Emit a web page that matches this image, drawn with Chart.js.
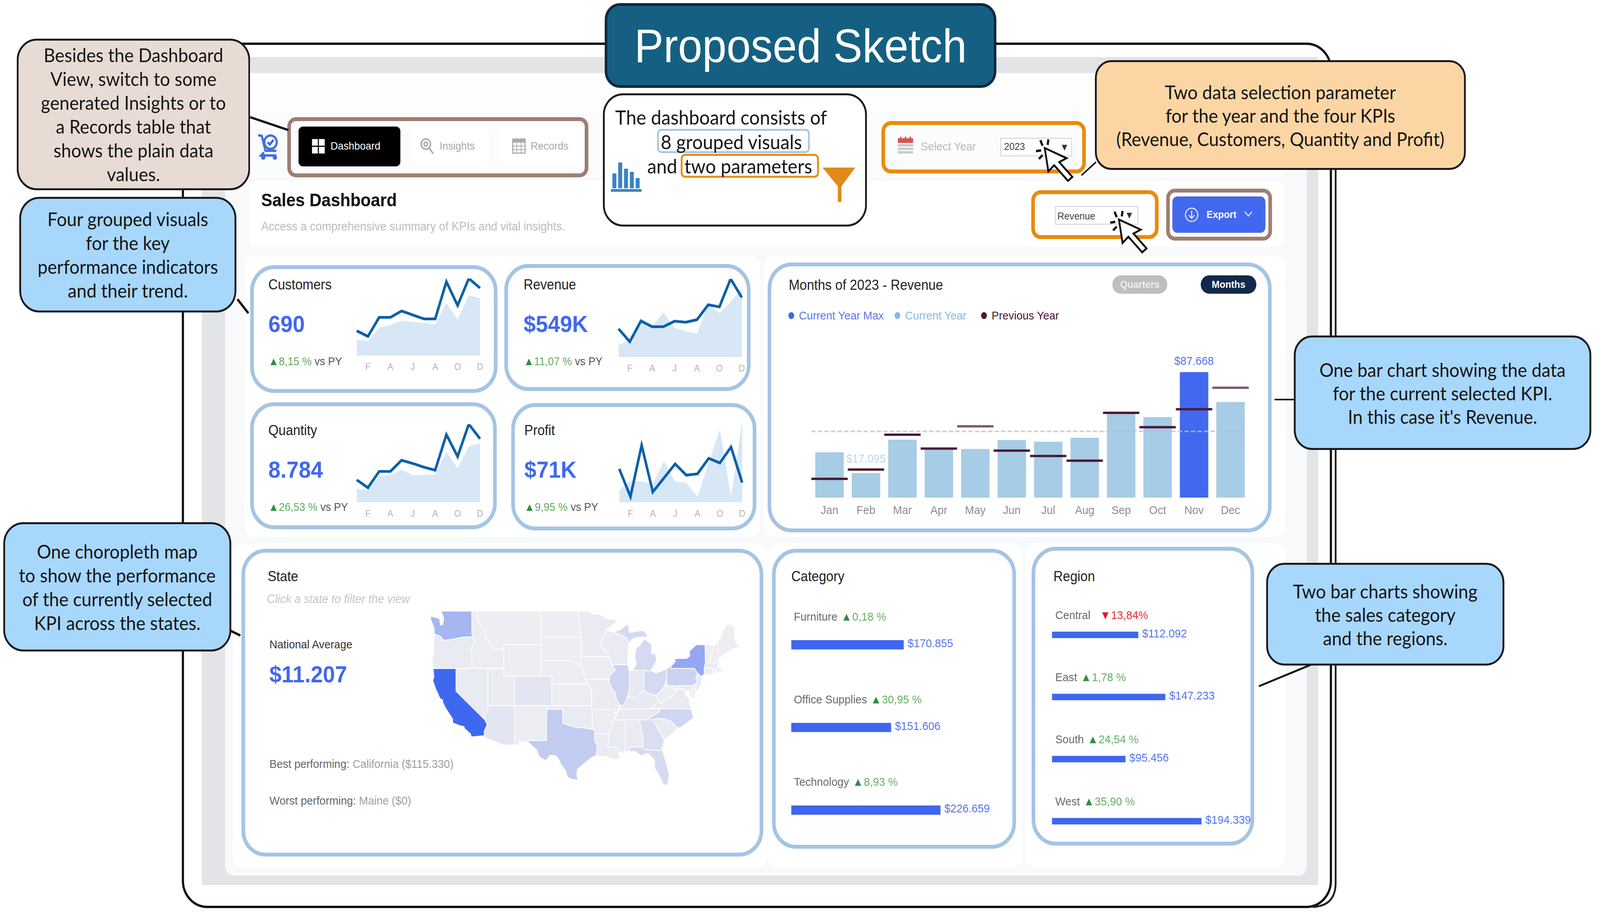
<!DOCTYPE html>
<html>
<head>
<meta charset="utf-8">
<title>Proposed Sketch</title>
<script src="https://cdn.jsdelivr.net/npm/chart.js@4"></script>
<style>
    html, body { margin: 0; padding: 0; background: #fff; overflow: hidden; }
    #root { position: relative; width: 4400px; height: 2335px; overflow: hidden; transform-origin: 0 0; font-family: "Liberation Sans", Arial, sans-serif; }
    #root div, #root canvas, #root svg { position: absolute; box-sizing: border-box; }
    .txt { white-space: nowrap; transform: translateY(-50%); }
    .callout { display: flex; flex-direction: column; justify-content: center; text-align: center; font-family: Lato, sans-serif; color: #141414; border: 5px solid #1a1a1a; }
    .callout div { position: static !important; white-space: nowrap; }
</style>
</head>
<body>
<div id="root"></div>
<script>
// Monthly revenue, 2023 vs previous year
const months = ['Jan', 'Feb', 'Mar', 'Apr', 'May', 'Jun', 'Jul', 'Aug', 'Sep', 'Oct', 'Nov', 'Dec'];
const revenue = [31650, 17095, 40430, 33990, 33990, 40200, 39030, 41840, 58600, 56260, 87668, 66800];
const revenuePrev = [13130, 19570, 43950, 34220, 49810, 32820, 29070, 25780, 59190, 49220, 61770, 76770];
const revenueAverage = 46290;
const legendNames = ['Current Year Max', 'Current Year', 'Previous Year'];

// KPI sparklines
const sparkTicks = ['', 'F', '', 'A', '', 'J', '', 'A', '', 'O', '', 'D'];
const customers = [31, 24, 48, 48, 56, 51, 46, 46, 93, 63, 97, 85];
const customersPrev = [20, 18, 35, 38, 44, 42, 41, 39, 66, 45, 76, 72];
const quantity = [392, 255, 540, 540, 736, 680, 615, 562, 1184, 801, 1367, 1112];
const quantityPrev = [229, 213, 458, 474, 572, 474, 481, 484, 883, 589, 981, 1030];
const profit = [6180, 1040, 10580, 1910, 4510, 7110, 5030, 5270, 8150, 7290, 10240, 3640];
const profitPrev = [2260, 3990, 3820, 3470, 7630, 3820, 3640, 1040, 7290, 13530, 1040, 14920];

// Category and region bars
const categoryNames = ['Furniture', 'Office Supplies', 'Technology'];
const categoryValues = [170855, 151606, 226659];
const categoryDeltas = ['0,18 %', '30,95 %', '8,93 %'];
const regionNames = ['Central', 'East', 'South', 'West'];
const regionValues = [112092, 147233, 95456, 194339];
const regionDeltas = ['13,84%', '1,78 %', '24,54 %', '35,90 %'];

// Choropleth: share of the best state, and simplified outlines as [lon, lat]
const stateCodes = ['WA', 'OR', 'CA', 'NV', 'ID', 'MT', 'WY', 'UT', 'CO', 'AZ', 'NM', 'ND', 'SD', 'NE', 'KS', 'OK', 'TX', 'MN', 'IA', 'MO', 'AR', 'LA', 'WI', 'IL', 'IN', 'MI', 'MI', 'OH', 'KY', 'TN', 'MS', 'AL', 'GA', 'FL', 'SC', 'NC', 'VA', 'WV', 'MD', 'DE', 'PA', 'NY', 'NJ', 'CT', 'RI', 'MA', 'VT', 'NH', 'ME'];
const stateValues = [48000, 3500, 115330, 3000, 1000, 600, 500, 2000, 7000, 7500, 1000, 300, 400, 1000, 1200, 2500, 29000, 2500, 1000, 2000, 1500, 2000, 2500, 22000, 5000, 17000, 17000, 17000, 4000, 3500, 3000, 2500, 14000, 16000, 2500, 20000, 3500, 300, 2000, 1500, 23000, 60000, 2500, 1500, 800, 2000, 300, 800, 0];
const stateOutlines = [
    [[-124.7,48.4],[-123.1,48.15],[-122.9,47.4],[-122.5,47.4],[-122.3,48.2],[-122.8,49],[-117.03,49],[-117.04,46.4],[-116.9,46],[-119,45.93],[-120.5,45.7],[-122.3,45.55],[-123,46.1],[-124.05,46.3],[-124.1,47],[-124.7,48]],
    [[-124.1,46.25],[-123,46.1],[-122.3,45.55],[-120.5,45.7],[-119,45.93],[-116.9,46],[-116.5,45.5],[-117.2,44.4],[-117.03,43.8],[-117.03,42],[-124.2,42],[-124.5,42.8],[-124.1,44.5]],
    [[-124.2,42],[-120,42],[-120,39],[-114.6,35],[-114.15,34.3],[-114.7,33.4],[-114.7,32.72],[-117.12,32.53],[-117.3,33],[-118.4,33.75],[-118.5,34.03],[-119.2,34.15],[-120.6,34.55],[-120.65,35.15],[-121.9,36.6],[-122.5,37.5],[-122.5,37.8],[-123,38],[-123.8,39.3],[-124.35,40.4],[-124.1,41]],
    [[-120,42],[-114.04,42],[-114.04,36.2],[-114.7,36.1],[-114.6,35],[-120,39]],
    [[-117.03,49],[-116.05,49],[-116.05,48],[-114.7,46.7],[-114.35,46.65],[-114.5,45.6],[-113.9,45.6],[-113.45,44.9],[-113,44.45],[-111.05,44.48],[-111.05,42],[-117.03,42],[-117.03,43.8],[-117.2,44.4],[-116.5,45.5],[-116.9,46],[-117.04,46.4]],
    [[-116.05,49],[-104.05,49],[-104.05,45],[-111.05,45],[-111.05,44.48],[-113,44.45],[-113.45,44.9],[-113.9,45.6],[-114.5,45.6],[-114.35,46.65],[-114.7,46.7],[-116.05,48]],
    [[-111.05,45],[-104.05,45],[-104.05,41],[-111.05,41]],
    [[-114.04,42],[-111.05,42],[-111.05,41],[-109.05,41],[-109.05,37],[-114.04,37]],
    [[-109.05,41],[-102.05,41],[-102.05,37],[-109.05,37]],
    [[-114.04,37],[-109.05,37],[-109.05,31.33],[-111.07,31.33],[-114.8,32.5],[-114.7,32.72],[-114.7,33.4],[-114.15,34.3],[-114.6,35],[-114.7,36.1],[-114.04,36.2]],
    [[-109.05,37],[-103,37],[-103.05,32],[-106.6,32],[-106.5,31.78],[-108.2,31.78],[-108.2,31.33],[-109.05,31.33]],
    [[-104.05,49],[-97.2,49],[-96.6,46.3],[-96.56,45.94],[-104.05,45.94]],
    [[-104.05,45.94],[-96.56,45.94],[-96.45,45.3],[-96.45,43.5],[-96.6,42.5],[-97.9,42.8],[-98.5,43],[-104.05,43]],
    [[-104.05,43],[-98.5,43],[-97.9,42.8],[-96.6,42.5],[-96.1,41.5],[-95.8,40.6],[-95.3,40],[-102.05,40],[-102.05,41],[-104.05,41]],
    [[-102.05,40],[-95.3,40],[-94.62,39.1],[-94.62,37],[-102.05,37]],
    [[-103,37],[-94.62,37],[-94.43,35.4],[-94.48,33.64],[-96,33.85],[-97.2,33.9],[-98.5,34.1],[-100,34.56],[-100,36.5],[-103,36.5]],
    [[-106.6,32],[-103.05,32],[-103,36.5],[-100,36.5],[-100,34.56],[-98.5,34.1],[-97.2,33.9],[-96,33.85],[-94.48,33.64],[-94.04,33.55],[-94.04,32],[-93.53,31.2],[-93.8,29.7],[-94.7,29.4],[-96,28.5],[-97.2,27.7],[-97.4,26.9],[-97.15,25.96],[-98.2,26.07],[-99.1,26.4],[-99.5,27.5],[-100.3,28.3],[-100.8,29.25],[-101.4,29.77],[-102.4,29.77],[-103.15,28.98],[-104.4,29.55],[-104.9,30.6],[-106.5,31.78]],
    [[-97.2,49],[-95.15,49],[-94.6,48.7],[-93,48.6],[-91.5,48.1],[-89.5,48],[-92,46.7],[-92.3,46.1],[-92.8,45.5],[-92.75,44.75],[-91.2,43.5],[-96.45,43.5],[-96.45,45.3],[-96.56,45.94],[-96.6,46.3]],
    [[-96.45,43.5],[-91.2,43.5],[-91.1,42.7],[-90.15,41.8],[-91.1,41.2],[-91.4,40.4],[-91.7,40.6],[-95.8,40.6],[-96.1,41.5],[-96.6,42.5]],
    [[-95.8,40.6],[-91.7,40.6],[-91.4,40.4],[-90.7,39.2],[-90.2,38.8],[-90.2,38.4],[-89.5,37.3],[-89.15,37],[-89.7,36.5],[-89.7,36],[-90.35,36],[-90.15,36.5],[-94.62,36.5],[-94.62,39.1],[-95.3,40]],
    [[-94.62,36.5],[-90.15,36.5],[-90.35,36],[-89.7,36],[-90.6,34.8],[-91.2,33],[-94.04,33],[-94.04,33.55],[-94.48,33.64],[-94.43,35.4]],
    [[-94.04,33],[-91.2,33],[-91.6,31],[-89.75,31],[-89.6,30.2],[-89.2,29.3],[-90.5,29.1],[-91.8,29.6],[-93.8,29.7],[-93.53,31.2],[-94.04,32]],
    [[-92,46.7],[-90.4,46.55],[-88.1,45.9],[-87.6,45.1],[-87.8,44],[-87.8,42.5],[-90.65,42.5],[-91.1,42.7],[-91.2,43.5],[-92.75,44.75],[-92.8,45.5],[-92.3,46.1]],
    [[-90.65,42.5],[-87.8,42.5],[-87.53,41.7],[-87.53,39.3],[-87.95,38.2],[-88.1,37.8],[-88.5,37.1],[-89.15,37],[-89.5,37.3],[-90.2,38.4],[-90.2,38.8],[-90.7,39.2],[-91.4,40.4],[-91.1,41.2],[-90.15,41.8]],
    [[-87.53,41.7],[-86.8,41.76],[-84.8,41.76],[-84.8,39.1],[-85.4,38.7],[-86.3,38.1],[-87.95,38.2],[-87.53,39.3]],
    [[-86.8,41.76],[-83.45,41.73],[-83.1,42.2],[-82.45,43],[-82.6,43.9],[-83.4,43.9],[-83.3,45],[-84.7,45.75],[-85.5,45],[-86.3,44.5],[-86.5,43.5],[-86.2,42.5]],
    [[-90.4,46.55],[-89,46.9],[-88.2,47.4],[-87.7,47.4],[-87.5,46.5],[-85,46.75],[-84.4,46.4],[-84,46],[-84.7,45.95],[-86,45.9],[-87,45.7],[-87.6,45.1],[-88.1,45.9]],
    [[-84.8,41.7],[-83.45,41.73],[-82.5,41.4],[-81.2,41.75],[-80.52,41.98],[-80.52,40.64],[-80.9,39.7],[-81.7,39],[-82.6,38.45],[-83.7,38.65],[-84.8,39.1]],
    [[-88.5,37.1],[-88.1,37.8],[-87.95,38.2],[-86.3,38.1],[-85.4,38.7],[-84.8,39.1],[-83.7,38.65],[-82.6,38.45],[-82,37.55],[-83.68,36.6],[-89.4,36.5],[-89.15,37]],
    [[-89.4,36.5],[-83.68,36.6],[-81.7,36.59],[-82,36.1],[-84.3,35],[-90.3,35],[-89.7,36]],
    [[-90.3,35],[-88.2,35],[-88.4,30.3],[-89.6,30.2],[-89.75,31],[-91.6,31],[-91.2,33],[-90.6,34.8]],
    [[-88.2,35],[-85.6,35],[-85,32.3],[-85,31],[-87.6,31],[-87.5,30.3],[-88.4,30.3]],
    [[-85.6,35],[-83.1,35],[-81,32.1],[-81.4,30.7],[-82.1,30.5],[-84.9,30.7],[-85,31],[-85,32.3]],
    [[-87.6,31],[-85,31],[-84.9,30.7],[-82.1,30.5],[-81.4,30.7],[-80.5,28.4],[-80.05,26.8],[-80.4,25.2],[-81.1,25.2],[-81.9,26.6],[-82.8,27.9],[-82.8,29],[-84,30.1],[-85.3,29.7],[-86.5,30.4],[-87.5,30.3]],
    [[-83.1,35],[-82.3,35.2],[-81,35.15],[-79.7,34.8],[-78.55,33.85],[-79.2,33.2],[-81,32.1]],
    [[-84.3,35],[-83.1,35],[-82.3,35.2],[-81,35.15],[-79.7,34.8],[-78.55,33.85],[-77.9,33.9],[-76.5,34.7],[-75.5,35.3],[-75.9,36.55],[-81.7,36.59],[-82,36.1]],
    [[-83.68,36.6],[-75.9,36.55],[-76.3,37.5],[-76.3,38],[-77,38.4],[-77.1,38.9],[-77.75,39.3],[-78.3,39.4],[-78.9,38.7],[-80,38],[-81.7,37.3],[-82,37.55]],
    [[-82.6,38.45],[-82,37.55],[-81.7,37.3],[-80,38],[-78.9,38.7],[-78.3,39.4],[-77.75,39.3],[-79.48,39.2],[-79.48,39.72],[-80.52,39.72],[-80.52,40.64],[-80.9,39.7],[-81.7,39]],
    [[-79.48,39.72],[-75.79,39.72],[-75.7,38.46],[-75.05,38.45],[-75.4,38],[-76.2,38.3],[-76.4,39.1],[-77.1,38.9],[-77.75,39.3],[-78.3,39.4],[-79.48,39.2]],
    [[-75.79,39.72],[-75.4,39.8],[-75.05,38.45],[-75.7,38.46]],
    [[-80.52,41.98],[-79.76,42.27],[-79.76,42],[-75.35,42],[-74.7,41.36],[-75.1,40.9],[-74.75,40.2],[-75.4,39.8],[-75.79,39.72],[-80.52,39.72]],
    [[-79.76,42.27],[-78.9,42.9],[-79.05,43.27],[-76.8,43.3],[-76.2,43.6],[-76.3,44.2],[-75,45],[-73.35,45],[-73.3,43.6],[-73.27,42.75],[-73.5,42.05],[-73.5,41.3],[-73.9,40.95],[-74.7,41.36],[-75.35,42],[-79.76,42]],
    [[-74.7,41.36],[-73.9,40.95],[-74.1,39.75],[-74.9,38.95],[-75.5,39.5],[-74.75,40.2],[-75.1,40.9]],
    [[-73.5,42.05],[-71.8,42.02],[-71.85,41.32],[-73.65,41],[-73.5,41.3]],
    [[-71.8,42.02],[-71.38,42.02],[-71.2,41.5],[-71.85,41.32]],
    [[-73.5,42.05],[-73.27,42.75],[-71.3,42.7],[-70.8,42.87],[-70.6,42.65],[-71,42.3],[-70.6,41.95],[-70,42],[-70,41.65],[-71.2,41.5],[-71.38,42.02]],
    [[-73.35,45],[-71.5,45],[-72.45,43],[-72.46,42.73],[-73.27,42.75],[-73.3,43.6]],
    [[-71.5,45],[-71.08,45.3],[-70.7,43.1],[-70.8,42.87],[-71.3,42.7],[-72.46,42.73],[-72.45,43]],
    [[-71.08,45.3],[-70.3,46],[-70,46.7],[-69.2,47.45],[-68.3,47.35],[-67.8,47.07],[-67.8,45.7],[-67,44.8],[-68.5,44.3],[-70,43.8],[-70.7,43.1]]
];

const root = document.getElementById('root');
const BLUE = '#4168ee';
const LIGHT_BAR = '#a6cce6';
const CARD_LINE = '#a4c4e5';

// The window can come out narrower than the 4400 the layout is measured in
root.style.transform = `scaleX(${Math.min(1, window.innerWidth / 4400)})`;

Chart.defaults.font.family = '"Liberation Sans", Arial, sans-serif';

function addBox(x0, y0, x1, y1, style) {
    const el = document.createElement('div');
    el.style.cssText = `left:${x0}px;top:${y0}px;width:${x1 - x0}px;height:${y1 - y0}px;` + (style || '');
    root.appendChild(el);
    return el;
}

function addText(x, cy, html, size, color, extra) {
    const el = document.createElement('div');
    el.className = 'txt';
    el.style.cssText = `left:${x}px;top:${cy}px;font-size:${size}px;color:${color};` + (extra || '');
    el.innerHTML = html;
    root.appendChild(el);
    return el;
}

function addCallout(x0, y0, x1, y1, bg, lines, step, radius) {
    const el = addBox(x0, y0, x1, y1, `background:${bg};border-radius:${radius}px;font-size:49px;line-height:${step}px;z-index:6;`);
    el.className = 'callout';
    lines.forEach(line => {
        const row = document.createElement('div');
        row.textContent = line;
        el.appendChild(row);
    });
}

function addSvg(x0, y0, x1, y1, inner, z) {
    const holder = document.createElement('div');
    holder.style.cssText = `left:${x0}px;top:${y0}px;width:${x1 - x0}px;height:${y1 - y0}px;z-index:${z || 5};`;
    holder.innerHTML = `<svg style="left:0;top:0;overflow:visible" width="${x1 - x0}" height="${y1 - y0}" viewBox="0 0 ${x1 - x0} ${y1 - y0}">${inner}</svg>`;
    root.appendChild(holder);
}

function addCanvas(x0, y0, x1, y1) {
    const canvas = document.createElement('canvas');
    canvas.width = x1 - x0;
    canvas.height = y1 - y0;
    canvas.style.cssText = `left:${x0}px;top:${y0}px;width:${x1 - x0}px;height:${y1 - y0}px;z-index:3;`;
    root.appendChild(canvas);
    return canvas.getContext('2d');
}

const baseOptions = {
    responsive: false,
    animation: false,
    devicePixelRatio: 1,
    events: []
};
const quietPlugins = { legend: { display: false }, tooltip: { enabled: false } };

// ---- Page frame ----
addBox(500, 109, 3663, 2325, 'border:6px solid #111;border-radius:70px;');
addSvg(3660, 430, 3690, 2330, '<path d="M13 0 V1830 Q13 1890 -50 1892" fill="none" stroke="#222" stroke-width="5"/>', 1);
addBox(555, 146, 3625, 2266, 'background:#e3e4e8;');
addBox(619, 187, 3594, 2242, 'background:#f7f9fb;border-radius:24px;');
addBox(619, 187, 3594, 292, 'background:#fdfdfe;');
addBox(684, 296, 3533, 456, 'background:#fbfcfd;border-radius:20px;');
addBox(684, 462, 3533, 632, 'background:#fff;border-radius:24px;');
addBox(672, 655, 2090, 1375, 'background:#fff;border-radius:28px;');
addBox(2100, 655, 3535, 1375, 'background:#fff;border-radius:28px;');
addBox(640, 1392, 2110, 2222, 'background:#fff;border-radius:28px;');
addBox(2112, 1392, 2812, 2222, 'background:#fff;border-radius:28px;');
addBox(2820, 1392, 3535, 2222, 'background:#fff;border-radius:28px;');

// ---- Cards ----
function addCard(x0, y0, x1, y1) {
    addBox(x0, y0, x1, y1, `background:#fff;border:10px solid ${CARD_LINE};border-radius:66px;z-index:2;`);
}
addCard(688, 679, 1368, 1006);
addCard(1387, 676, 2064, 1001);
addCard(688, 1030, 1366, 1355);
addCard(1406, 1032, 2080, 1358);
addCard(2111, 672, 3497, 1363);
addCard(664, 1405, 2099, 2193);
addCard(2123, 1405, 2794, 2173);
addCard(2837, 1400, 3449, 2165);

const z3 = 'z-index:3;';

// ---- Header row ----
addText(718, 512, 'Sales Dashboard', 46, '#111', 'font-weight:bold;' + z3);
addText(718, 580, 'Access a comprehensive summary of KPIs and vital insights.', 31, '#bdbdbd', z3);

addSvg(704, 340, 770, 408, `<g fill="none" stroke="#3f6fe0" stroke-width="6">
    <path d="M6 6 L16 8 L26 46 H56"/><path d="M22 50 L14 58 H56"/><circle cx="20" cy="63" r="3"/><circle cx="52" cy="63" r="3"/>
    <circle cx="40" cy="24" r="17"/><path d="M32 24 L38 30 L48 18"/></g>`, 3);
addBox(790, 300, 1618, 454, 'border:10px solid #9e7e72;border-radius:24px;z-index:3;');
addBox(821, 324, 1101, 426, 'background:#000;border-radius:12px;z-index:3;');
addBox(1134, 324, 1344, 426, 'background:#fff;border-radius:14px;z-index:3;');
addBox(1378, 324, 1606, 426, 'background:#fff;border-radius:14px;z-index:3;');
addSvg(858, 356, 894, 394, '<g fill="#fff"><rect width="16" height="17"/><rect x="19" width="16" height="17"/><rect y="20" width="16" height="17"/><rect x="19" y="20" width="16" height="17"/></g>', 4);
addText(909, 374, 'Dashboard', 28, '#fff', 'z-index:4;');
addSvg(1155, 352, 1196, 398, '<g fill="none" stroke="#aaa" stroke-width="4"><circle cx="16" cy="17" r="13"/><circle cx="16" cy="17" r="5"/><path d="M25 27 L37 42"/></g>', 4);
addText(1209, 374, 'Insights', 28, '#a8a8a8', 'z-index:4;');
addSvg(1408, 354, 1448, 394, '<rect x="2" y="2" width="34" height="36" fill="none" stroke="#aaa" stroke-width="3"/><rect x="2" y="2" width="34" height="9" fill="#aaa"/><path d="M2 20 H36 M2 29 H36 M13 11 V38 M25 11 V38" stroke="#aaa" stroke-width="2"/>', 4);
addText(1459, 374, 'Records', 28, '#a8a8a8', 'z-index:4;');

addBox(2424, 310, 2986, 444, 'border:10px solid #e98b0a;border-radius:26px;z-index:3;');
addSvg(2467, 350, 2513, 396, '<rect x="2" y="4" width="42" height="12" fill="#d9534f"/><path d="M10 0 V10 M23 0 V10 M36 0 V10" stroke="#d9534f" stroke-width="4"/><g fill="#c9c9c9"><rect x="2" y="19" width="42" height="6"/><rect x="2" y="28" width="42" height="6"/><rect x="2" y="37" width="42" height="6"/></g>', 4);
addText(2532, 375, 'Select Year', 30, '#bbb', z3);
addBox(2751, 353, 2948, 400, 'border:2px solid #cfcfcf;background:#fff;z-index:3;');
addText(2761, 375, '2023', 26, '#444', 'z-index:4;');
addText(2920, 375, '▾', 30, '#333', 'z-index:4;');

addBox(2836, 487, 3186, 612, 'border:10px solid #e98b0a;border-radius:26px;z-index:3;');
addBox(2901, 528, 3130, 575, 'border:2px solid #cfcfcf;background:#fff;z-index:3;');
addText(2908, 553, 'Revenue', 26, '#444', 'z-index:4;');
addText(3098, 549, '▾', 30, '#333', 'z-index:4;');

addBox(3207, 483, 3498, 616, 'border:10px solid #9e7e72;border-radius:24px;z-index:3;');
addBox(3224, 503, 3480, 596, `background:${BLUE};border-radius:14px;z-index:3;`);
addSvg(3257, 530, 3297, 570, '<g fill="none" stroke="#dfe6ff" stroke-width="3"><circle cx="20" cy="20" r="17"/><path d="M20 9 V29 M12 21 L20 29 L28 21"/></g>', 4);
addText(3318, 549, 'Export', 26, '#fff', 'font-weight:bold;z-index:4;');
addSvg(3420, 538, 3446, 558, '<path d="M3 4 L13 15 L23 4" fill="none" stroke="#dfe6ff" stroke-width="3"/>', 4);

function addCursor(x, y) {
    addSvg(x - 30, y - 30, x + 100, y + 110, `<g transform="translate(30 30)">
        <path d="M0 0 L10 60 L26 44 L64 84 L76 74 L40 36 L60 26 Z" fill="#fff" stroke="#111" stroke-width="5"/>
        <path d="M-6 -6 L-12 -20 M8 -8 L10 -22 M-10 6 L-24 8 M-6 18 L-16 28" stroke="#111" stroke-width="6"/></g>`, 7);
}
addCursor(2873, 379);
addCursor(3077, 562);

// ---- KPI sparklines ----
function drawSpark(x0, x1, top, base, line, area) {
    const pad = 24;
    const ctx = addCanvas(x0 - pad, top - 10, x1 + pad, base + 40);
    new Chart(ctx, {
        type: 'line',
        data: {
            labels: sparkTicks,
            datasets: [
                { data: line, borderColor: '#0b5fa8', borderWidth: 7, pointRadius: 0, tension: 0, fill: false, order: 0 },
                { data: area, backgroundColor: '#d7e7f5', borderWidth: 0, pointRadius: 0, tension: 0, fill: 'origin', order: 1 }
            ]
        },
        options: {
            ...baseOptions,
            layout: { padding: { left: pad, right: pad, top: 10, bottom: 0 } },
            plugins: quietPlugins,
            scales: {
                x: {
                    offset: false,
                    afterFit: scale => { scale.height = 40; },
                    grid: { display: false },
                    border: { display: false },
                    ticks: { autoSkip: false, maxRotation: 0, color: '#b0b0b0', padding: 8, font: { size: 24 } }
                },
                y: { display: false, min: 0, max: Math.max(...line, ...area) }
            }
        }
    });
}

function addKpi(x, titleY, title, total, delta) {
    addText(x, titleY, title, 36, '#222', z3);
    addText(x, titleY + 100, total, 60, BLUE, 'font-weight:bold;' + z3);
    addText(x, titleY + 196, `<span style="color:#2f8f3f">▲</span><span style="color:#63ae63">${delta}</span> <span style="color:#555">vs PY</span>`, 29, '#555', z3);
}
addKpi(738, 729, 'Customers', '690', '8,15 %');
addKpi(1440, 729, 'Revenue', '$549K', '11,07 %');
addKpi(738, 1102, 'Quantity', '8.784', '26,53 %');
addKpi(1442, 1102, 'Profit', '$71K', '9,95 %');

drawSpark(981, 1320, 713, 910, customers, customersPrev);
drawSpark(1701, 2040, 714, 914, revenue, revenuePrev);
drawSpark(981, 1320, 1086, 1286, quantity, quantityPrev);
drawSpark(1703, 2041, 1080, 1286, profit, profitPrev);

// ---- Monthly bar chart ----
addText(2169, 730, 'Months of 2023 - Revenue', 36, '#222', z3);
addBox(3059, 705, 3210, 752, 'background:#bcbec0;border-radius:24px;z-index:3;color:#eee;font-size:26px;font-weight:bold;text-align:center;line-height:47px;').textContent = 'Quarters';
addBox(3302, 705, 3455, 752, 'background:#13294b;border-radius:24px;z-index:3;color:#fff;font-size:26px;font-weight:bold;text-align:center;line-height:47px;').textContent = 'Months';

const legendSpots = [[2176, BLUE, '#5a78ea'], [2468, '#8cb8dc', '#8cb8dc'], [2706, '#4a1a35', '#4a1a35']];
legendNames.forEach((name, i) => {
    const [x, dot, color] = legendSpots[i];
    addBox(x - 8, 799, x + 8, 817, `background:${dot};border-radius:50%;z-index:3;`);
    addText(x + 21, 808, name, 30, color, z3);
});

const monthlyLabels = {
    id: 'monthlyLabels',
    afterDatasetsDraw(chart) {
        const { ctx, chartArea, scales } = chart;
        const yAvg = scales.y.getPixelForValue(revenueAverage);
        ctx.save();
        ctx.strokeStyle = 'rgba(190,190,196,0.75)';
        ctx.lineWidth = 4;
        ctx.setLineDash([12, 6]);
        ctx.beginPath();
        ctx.moveTo(chartArea.left, yAvg);
        ctx.lineTo(chartArea.right - 10, yAvg);
        ctx.stroke();
        ctx.setLineDash([]);

        // only the highest and lowest months carry a value
        ctx.font = '30px "Liberation Sans"';
        ctx.textAlign = 'center';
        ctx.textBaseline = 'middle';
        const top = Math.max(...revenue);
        const low = Math.min(...revenue);
        const bars = chart.getDatasetMeta(0).data;
        revenue.forEach((v, i) => {
            if (v !== top && v !== low) return;
            ctx.fillStyle = v === top ? '#4f6fe8' : '#bcd6ea';
            ctx.fillText('$' + v.toLocaleString('de-DE'), bars[i].x, bars[i].y - (v === top ? 27 : 36));
        });
        ctx.restore();
    }
};

new Chart(addCanvas(2175, 860, 3490, 1330), {
    type: 'bar',
    data: {
        labels: months,
        datasets: [
            {
                data: revenue,
                backgroundColor: revenue.map(v => (v === Math.max(...revenue) ? BLUE : LIGHT_BAR)),
                categoryPercentage: 1,
                barPercentage: 0.78,
                order: 1
            },
            {
                type: 'line',
                data: revenuePrev,
                showLine: false,
                pointStyle: 'line',
                pointRadius: 50,
                pointBorderWidth: 6,
                pointBorderColor: revenuePrev.map((v, i) => (v > revenue[i] * 1.1 && v > 45000 ? '#7b5a6c' : '#4a1a35')),
                order: 0
            }
        ]
    },
    options: {
        ...baseOptions,
        layout: { padding: { left: 10, right: 20, top: 20, bottom: 0 } },
        plugins: quietPlugins,
        scales: {
            x: {
                afterFit: scale => { scale.height = 56; },
                grid: { display: false, drawTicks: false },
                border: { display: false },
                ticks: { color: '#8a8a8a', padding: 16, font: { size: 30 } }
            },
            y: { display: false, min: 0, max: 97700 }
        }
    },
    plugins: [monthlyLabels]
});

// ---- Category and region bars ----
function rowLabels(names, values, deltas, textShift, labelRise) {
    return {
        id: 'rowLabels',
        afterDatasetsDraw(chart) {
            const { ctx } = chart;
            const bars = chart.getDatasetMeta(0).data;
            ctx.save();
            ctx.textBaseline = 'middle';
            ctx.font = '30px "Liberation Sans"';
            bars.forEach((bar, i) => {
                ctx.fillStyle = '#5372ea';
                ctx.fillText('$' + values[i].toLocaleString('de-DE'), bar.x + 11, bar.y - 2);

                const drop = deltas[i].endsWith('%') && !deltas[i].includes(' ');
                let x = chart.chartArea.left + textShift;
                const y = bar.y - labelRise;
                ctx.fillStyle = '#666';
                ctx.fillText(names[i], x, y);
                x += ctx.measureText(names[i]).width + (drop ? 26 : 10);
                ctx.fillStyle = drop ? '#e8141c' : '#2f8f3f';
                ctx.fillText(drop ? '▼' : '▲', x, y);
                x += ctx.measureText('▲').width + 1;
                ctx.fillStyle = drop ? '#ee2a32' : '#63ae63';
                ctx.fillText(deltas[i], x, y);
            });
            ctx.restore();
        }
    };
}

function drawRows(x0, y0, x1, y1, names, values, deltas, xMax, thickness, textShift, labelRise) {
    new Chart(addCanvas(x0, y0, x1, y1), {
        type: 'bar',
        data: { labels: names, datasets: [{ data: values, backgroundColor: '#3f66ee', barThickness: thickness }] },
        options: {
            ...baseOptions,
            indexAxis: 'y',
            plugins: quietPlugins,
            scales: {
                x: { display: false, min: 0, max: xMax },
                y: { display: false }
            }
        },
        plugins: [rowLabels(names, values, deltas, textShift, labelRise)]
    });
}

addText(2176, 1476, 'Category', 36, '#222', z3);
addText(2897, 1476, 'Region', 36, '#222', z3);
drawRows(2176, 1545, 2786, 2180, categoryNames, categoryValues, categoryDeltas, 337300, 23, 7, 70);
drawRows(2893, 1546, 3445, 2182, regionNames, regionValues, regionDeltas, 261100, 16, 9, 49);

// ---- Choropleth ----
addText(736, 1476, 'State', 36, '#222', z3);
addText(734, 1534, 'Click a state to filter the view', 31, '#c6c6c6', 'font-style:italic;' + z3);
addText(741, 1650, 'National Average', 30, '#333', z3);
addText(741, 1726, '$11.207', 60, BLUE, 'font-weight:bold;' + z3);
addText(741, 1956, '<span style="color:#666">Best performing:</span> California ($115.330)', 30, '#a0a0a0', z3);
addText(741, 2050, '<span style="color:#666">Worst performing:</span> Maine ($0)', 30, '#a0a0a0', z3);

function mercator(lat) {
    return Math.log(Math.tan(Math.PI / 4 + lat * Math.PI / 360)) * 180 / Math.PI;
}

function stateColor(value) {
    const t = value / Math.max(...stateValues);
    const from = [238, 238, 242];
    const to = [63, 104, 240];
    return `rgb(${from.map((c, i) => Math.round(c + (to[i] - c) * t)).join(',')})`;
}

new Chart(addCanvas(1160, 1540, 2060, 2040), {
    type: 'scatter',
    data: {
        datasets: stateOutlines.map((outline, i) => ({
            label: stateCodes[i],
            data: outline.map(([lon, lat]) => ({ x: lon, y: mercator(lat) })),
            showLine: true,
            fill: 'shape',
            tension: 0,
            pointRadius: 0,
            borderWidth: 2,
            borderColor: '#fff',
            backgroundColor: stateColor(stateValues[i])
        }))
    },
    options: {
        ...baseOptions,
        plugins: quietPlugins,
        scales: {
            x: { display: false, min: -126.4, max: -65.09 },
            y: { display: false, min: 23.99, max: 58.05 }
        }
    }
});

// ---- Connector lines ----
addSvg(0, 0, 4400, 2335, `<g stroke="#111" stroke-width="6" fill="none">
    <path d="M688 300 L793 333"/>
    <path d="M653 766 L683 802"/>
    <path d="M634 1615 L661 1627"/>
    <path d="M3014 415 L2974 449" stroke-width="4"/>
    <path d="M3505 1023 H3558" stroke-width="4"/>
    <path d="M3462 1757 L3610 1700" stroke-width="5"/></g>`, 4);

// ---- Callouts ----
addBox(1663, 8, 2740, 225, 'background:#156082;border:7px solid #0a2a3d;border-radius:42px;z-index:6;color:#fff;font-size:120px;text-align:center;line-height:205px;').textContent = 'Proposed Sketch';

addCallout(46, 99, 688, 487, '#e8dbd4', ['Besides the Dashboard', 'View, switch to some', 'generated Insights or to', 'a Records table that', 'shows the plain data', 'values.'], 61, 55);
addCallout(53, 504, 650, 800, '#a7d7fb', ['Four grouped visuals', 'for the key', 'performance indicators', 'and their trend.'], 61, 55);
addCallout(9, 1337, 636, 1668, '#a7d7fb', ['One choropleth map', 'to show the performance', 'of the currently selected', 'KPI across the states.'], 61, 55);
addCallout(3011, 154, 4031, 435, '#fcd5a4', ['Two data selection parameter', 'for the year and the four KPIs', '(Revenue, Customers, Quantity and Profit)'], 60, 45);
addCallout(3558, 859, 4376, 1152, '#a7d7fb', ['One bar chart showing the data', 'for the current selected KPI.', "In this case it's Revenue."], 60, 50);
addCallout(3482, 1441, 4137, 1704, '#a7d7fb', ['Two bar charts showing', 'the sales category', 'and the regions.'], 60, 50);

// Centre note with its two highlighted phrases
addBox(1658, 239, 2384, 580, 'background:#fff;border:5px solid #1a1a1a;border-radius:55px;z-index:6;');
const note = 'font-family:Lato,sans-serif;z-index:8;';
addText(1692, 299, 'The dashboard consists of', 51, '#141414', note);
addText(1817, 362, '8 grouped visuals', 51, '#141414', note);
addText(1780, 424, 'and', 51, '#141414', note);
addText(1882, 424, 'two parameters', 51, '#141414', note);
addBox(1807, 330, 2227, 392, 'border:5px solid #a8c8e8;border-radius:12px;z-index:7;');
addBox(1872, 394, 2252, 455, 'border:5px solid #e98b0a;border-radius:12px;z-index:7;');
addSvg(1680, 404, 1768, 494, `<g fill="#3b83c4"><rect x="4" y="40" width="11" height="38"/><rect x="20" y="12" width="11" height="66"/><rect x="36" y="28" width="11" height="50"/><rect x="52" y="36" width="11" height="42"/><rect x="68" y="52" width="11" height="26"/><rect x="0" y="80" width="84" height="7"/></g>`, 7);
addSvg(2260, 425, 2356, 522, '<path d="M2 4 H92 L54 52 V92 H44 V52 Z" fill="#e08a1a"/>', 7);
</script>
</body>
</html>
